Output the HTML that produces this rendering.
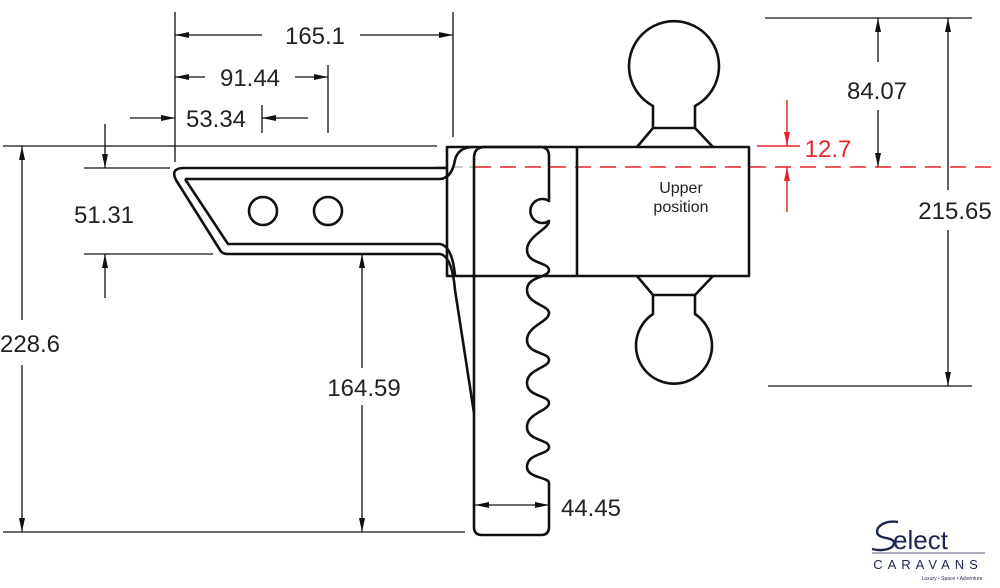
<!DOCTYPE html>
<html><head><meta charset="utf-8"><style>
html,body{margin:0;padding:0;background:#fff;width:1000px;height:588px;overflow:hidden}
svg{display:block}
text{font-family:"Liberation Sans",sans-serif;font-size:24px;fill:#222}
</style></head><body>
<svg width="1000" height="588" viewBox="0 0 1000 588" xmlns="http://www.w3.org/2000/svg">
<defs>
<marker id="a" viewBox="0 0 14 8" refX="14" refY="4" markerWidth="14" markerHeight="8" orient="auto" markerUnits="userSpaceOnUse"><path d="M0,1 L14,4 L0,7 Z" fill="#111"/></marker>
<marker id="r" viewBox="0 0 14 8" refX="14" refY="4" markerWidth="14" markerHeight="8" orient="auto" markerUnits="userSpaceOnUse"><path d="M0,1 L14,4 L0,7 Z" fill="#e8242a"/></marker>
</defs>
<g stroke="#111" stroke-width="1.3" fill="none">
<line x1="175" y1="12" x2="175" y2="162"/>
<line x1="453" y1="12" x2="453" y2="137"/>
<line x1="328" y1="65" x2="328" y2="133"/>
<line x1="262" y1="105" x2="262" y2="133"/>
<line x1="3" y1="146" x2="437" y2="146"/>
<line x1="84" y1="168" x2="170" y2="168"/>
<line x1="84" y1="254" x2="213" y2="254"/>
<line x1="3" y1="532" x2="465" y2="532"/>
<line x1="355" y1="254" x2="440" y2="254" stroke="#ccc"/>
<line x1="765" y1="18" x2="972" y2="18"/>
<line x1="768" y1="386" x2="972" y2="386"/>
<line x1="262" y1="35" x2="175" y2="35" marker-end="url(#a)"/>
<line x1="360" y1="35" x2="453" y2="35" marker-end="url(#a)"/>
<line x1="205" y1="77" x2="175" y2="77" marker-end="url(#a)"/>
<line x1="295" y1="77" x2="328" y2="77" marker-end="url(#a)"/>
<line x1="130" y1="118" x2="175" y2="118" marker-end="url(#a)"/>
<line x1="308" y1="118" x2="262" y2="118" marker-end="url(#a)"/>
<line x1="105" y1="124" x2="105" y2="168" marker-end="url(#a)"/>
<line x1="105" y1="298" x2="105" y2="254" marker-end="url(#a)"/>
<line x1="22" y1="320" x2="22" y2="146" marker-end="url(#a)"/>
<line x1="22" y1="365" x2="22" y2="532" marker-end="url(#a)"/>
<line x1="362" y1="368" x2="362" y2="254" marker-end="url(#a)"/>
<line x1="362" y1="405" x2="362" y2="532" marker-end="url(#a)"/>
<line x1="512" y1="505" x2="475" y2="505" marker-end="url(#a)"/>
<line x1="512" y1="505" x2="549" y2="505" marker-end="url(#a)"/>
<line x1="878" y1="62" x2="878" y2="18" marker-end="url(#a)"/>
<line x1="878" y1="110" x2="878" y2="167" marker-end="url(#a)"/>
<line x1="948" y1="190" x2="948" y2="18" marker-end="url(#a)"/>
<line x1="948" y1="230" x2="948" y2="386" marker-end="url(#a)"/>
</g>
<g stroke="#e8242a" stroke-width="1.5" fill="none">
<line x1="475" y1="167" x2="1000" y2="167" stroke-dasharray="16,9"/>
<line x1="757" y1="146" x2="800" y2="146"/>
<line x1="787" y1="100" x2="787" y2="146" marker-end="url(#r)"/>
<line x1="787" y1="212" x2="787" y2="167" marker-end="url(#r)"/>
</g>
<line x1="437" y1="167" x2="475" y2="167" stroke="#aaa" stroke-width="1.3" stroke-dasharray="10,6"/>
<g stroke="#111" stroke-width="2.6" fill="none" stroke-linejoin="round">
<path d="M447,168 H184 Q170,168 176,180 L220,250 Q222,254 228,254 H440 Q452,256 455,290 L474,413"/>
<path d="M185,179 L228,244 H440 Q452,246 455,275"/>
<path d="M185,179 H440 Q452,178 455,160 Q458,147 474,147"/>
<circle cx="263" cy="211" r="14"/>
<circle cx="328" cy="211" r="14"/>
<rect x="447" y="147" width="302" height="129"/>
<line x1="577" y1="147" x2="577" y2="276"/>
<path d="M474,158 Q474,147 485,147 H540 Q549,147 549,156 V201 A12,12 0 1 0 549,221
C549,229 527,236 527,250 C527,264 549,262 549,270
C549,278 527,276 527,290 C527,304 549,305 549,313
C549,322 527,326 527,340 C527,354 549,352 549,360
C549,368 527,369 527,383 C527,397 549,395 549,403
C549,411 527,413 527,427 C527,441 549,439 549,447
C549,455 527,453 527,467 C527,478 549,477 549,483
V527 Q549,535 541,535 H482 Q474,535 474,527 V158"/>
<!-- top ball -->
<path d="M653,106 A45,45 0 1 1 695,106 V128 H653 Z"/>
<path d="M695,128 L713,147 M653,128 L637,147"/>
<!-- bottom ball -->
<path d="M653,295 H695 V314 A38,38 0 1 1 653,314 Z"/>
<path d="M637,276 L653,295 M713,276 L695,295"/>
</g>
<g>
<text x="315" y="44" text-anchor="middle">165.1</text>
<text x="250" y="86" text-anchor="middle">91.44</text>
<text x="216" y="127" text-anchor="middle">53.34</text>
<text x="104" y="223" text-anchor="middle">51.31</text>
<rect x="0" y="328" width="66" height="30" fill="#fff"/>
<text x="30" y="352" text-anchor="middle">228.6</text>
<text x="364" y="396" text-anchor="middle">164.59</text>
<text x="591" y="516" text-anchor="middle">44.45</text>
<text x="877" y="99" text-anchor="middle">84.07</text>
<text x="955" y="219" text-anchor="middle">215.65</text>
<text x="828" y="157" text-anchor="middle" style="fill:#e8242a">12.7</text>
<text x="681" y="193" text-anchor="middle" style="font-size:16px">Upper</text>
<text x="681" y="212" text-anchor="middle" style="font-size:16px">position</text>
</g>
<g>
<path d="M898,522 Q884,520 878,528 Q874,536 886,538 Q898,540 892,547 Q884,552 872,549" stroke="#1c2550" stroke-width="2.4" fill="none"/>
<text x="893" y="549" style="font-size:26px;fill:#1c2550">elect</text>
<line x1="872" y1="553" x2="985" y2="553" stroke="#1c2550" stroke-width="0.8"/>
<text x="928" y="569" text-anchor="middle" style="font-size:13px;fill:#1c2550;letter-spacing:5px">CARAVANS</text>
<text x="952" y="580" text-anchor="middle" style="font-size:5px;fill:#1c2550">Luxury • Space • Adventure</text>
</g>
</svg>
</body></html>
